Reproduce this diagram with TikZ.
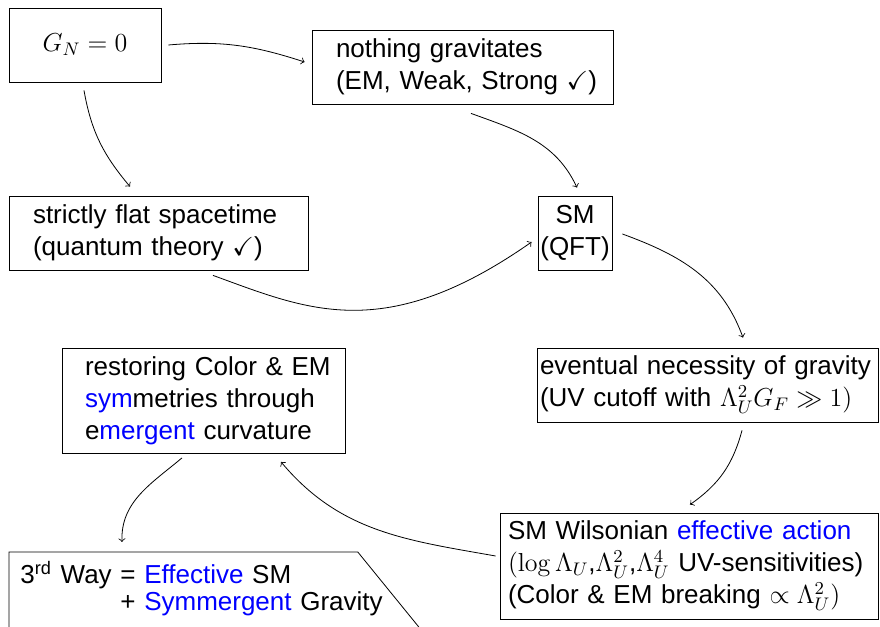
\documentclass[tikz,border=0pt]{standalone}
\usepackage{fix-cm}
\usepackage{amssymb}
\usepackage[no-math]{fontspec}
\setmainfont{Liberation Sans}
\usetikzlibrary{calc}
\begin{document}
\begin{tikzpicture}[x=0.5pt,y=0.5pt,
  txt/.style={font=\fontsize{13}{16}\selectfont},
  box/.style={txt, draw, rectangle, inner ysep=0pt, align=left},
  conn/.style={->, line width=0.4pt}]
\useasboundingbox (0,0) rectangle (880,627);
% boxes
\node[box, align=center, minimum width=76pt, minimum height=37pt] (gn) at (85,582) {$G_N = 0$};
\node[box, inner xsep=12pt, text width=126.5pt, minimum height=37pt] (noth) at (462.5,560)
  {\mbox{nothing gravitates}\\\mbox{(EM, Weak, Strong $\checkmark$)}};
\node[box, inner xsep=12pt, text width=125.5pt, minimum height=37pt] (flat) at (158.5,394)
  {\mbox{strictly flat spacetime}\\\mbox{(quantum theory $\checkmark$)}};
\node[box, align=center, inner xsep=1pt, minimum width=37pt, minimum height=37pt] (sm) at (575,394)
  {SM\\(QFT)};
\node[box, inner xsep=1.5pt, text width=167.5pt, minimum height=37pt] (evn) at (707.5,242)
  {\mbox{eventual necessity of gravity}\\\mbox{(UV cutoff with $\Lambda_U^2 G_F \gg 1)$}};
\node[box, inner xsep=11.5pt, text width=118.5pt, minimum height=52.5pt] (rest) at (203.5,226.5)
  {\mbox{restoring Color \& EM}\\\mbox{\textcolor{blue}{sym}metries through}\\\mbox{e\textcolor{blue}{mergent} curvature}};
\node[box, inner xsep=4pt, text width=181pt, minimum height=53pt] (wil) at (689,61)
  {\mbox{SM Wilsonian \textcolor{blue}{effective action}}\\\mbox{$(\log\Lambda_U$,$\Lambda_U^2$,$\Lambda_U^4$ UV-sensitivities)}\\\mbox{(Color \& EM breaking $\propto\Lambda_U^2)$}};
\node[txt, anchor=north west, inner xsep=5.5pt, inner ysep=0pt, text width=163pt,
      minimum width=174pt, minimum height=37.5pt, align=left] (way) at (9,75)
  {{\renewcommand\arraystretch{0.85}%
   \begin{tabular}{@{}l@{ }l@{}}3\textsuperscript{rd} Way & = \textcolor{blue}{Effective} SM\\
   & + \textcolor{blue}{Symmergent} Gravity\end{tabular}}};
\draw (way.south west) -- (way.north west) -- (way.north east) -- ($(way.north east)+(61,-75)$);
% connectors
\draw[conn] ($(gn.east)+(7,0)$) to[out=5,in=162] ($(noth.west)+(-7,5)$);
\draw[conn] ($(gn.south)+(-1,-8)$) to[out=-80,in=130] ($(flat.north)+(-28.5,9)$);
\draw[conn] ($(noth.south)+(8.5,-9)$) to[out=-20,in=115] ($(sm.north)+(2,8)$);
\draw[conn] ($(flat.south)+(54.5,-5)$) .. controls +(-20:100) and +(-145:180) .. ($(sm.west)+(-6,-9)$);
\draw[conn] ($(sm.east)+(10,-1)$) to[out=-20,in=110] ($(evn.north)+(35.5,10)$);
\draw[conn] ($(evn.south)+(34.5,-8)$) to[out=-105,in=35] ($(wil.north)+(1,8)$);
\draw[conn] ($(wil.west)+(-4,10)$) to[out=170,in=-50] ($(rest.south)+(77.5,-8.5)$);
\draw[conn] ($(rest.south)+(-21.5,-4.5)$) to[out=-140,in=92] ($(way.north west)+(113,10)$);
\end{tikzpicture}
\end{document}
